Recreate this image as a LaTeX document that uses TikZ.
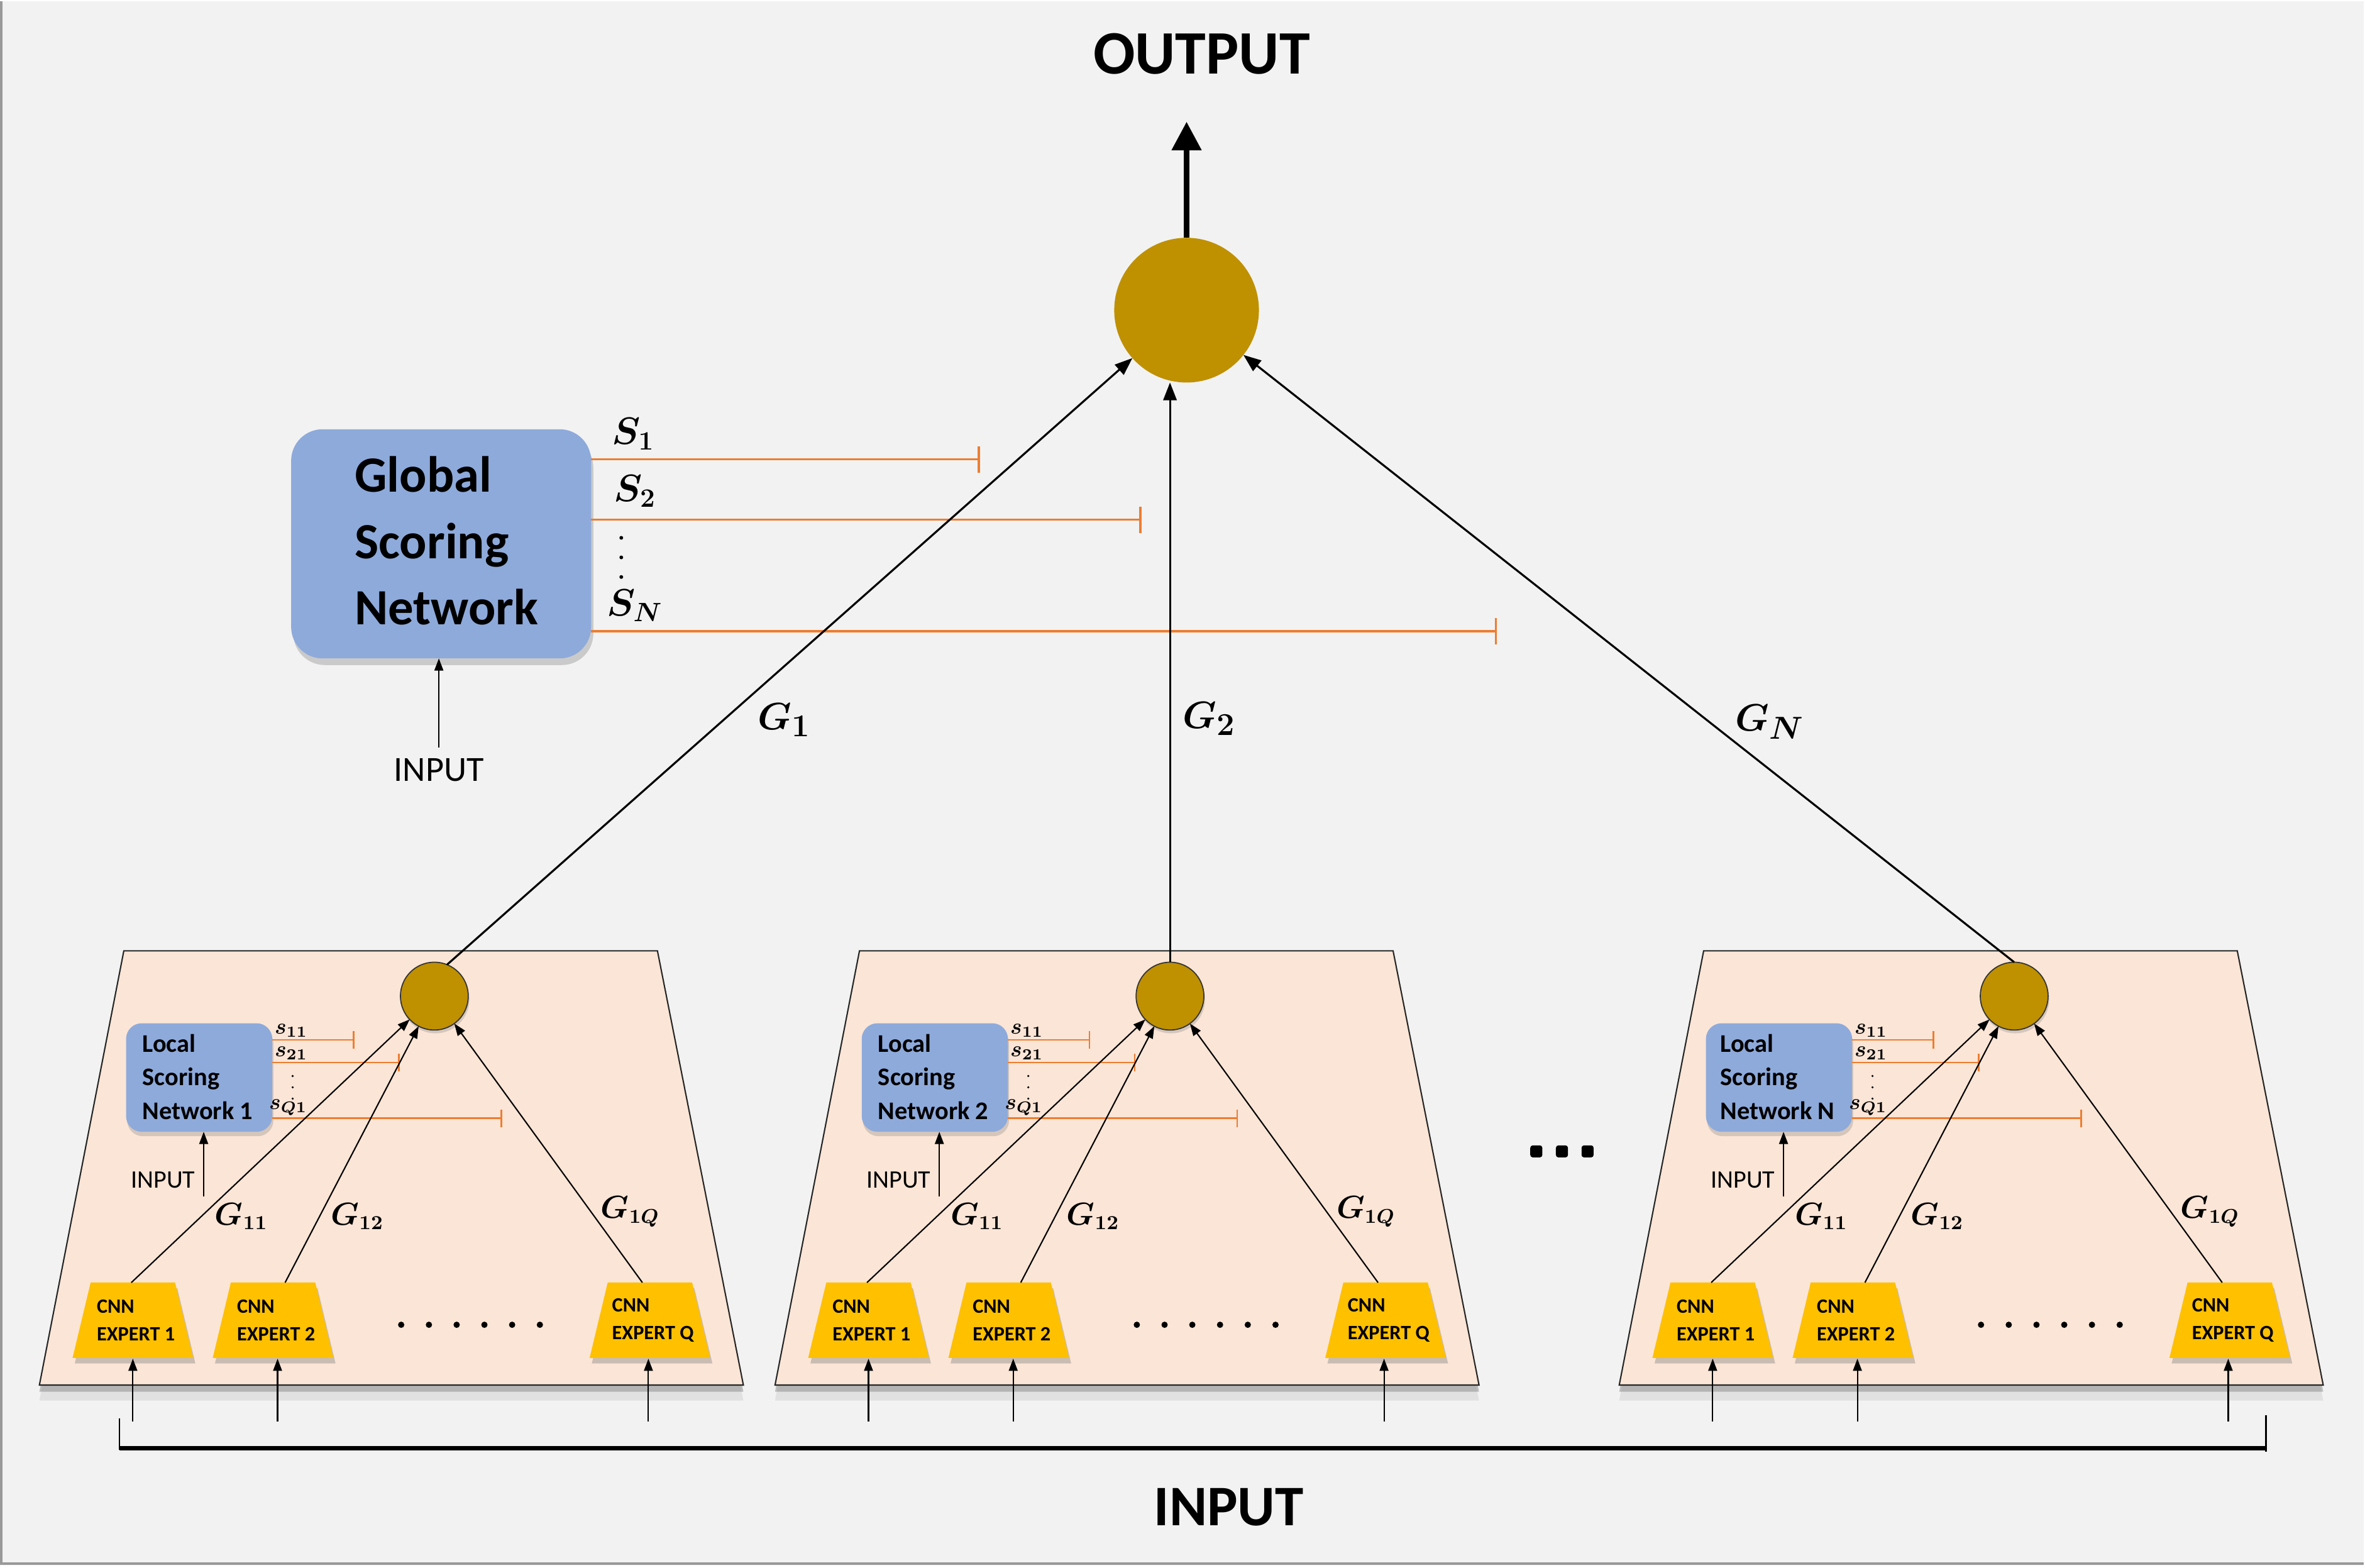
\documentclass[tikz,border=0pt]{standalone}
\usepackage{fontspec}
\setmainfont{Carlito}
\usetikzlibrary{arrows.meta,shadows}
\definecolor{bgc}{HTML}{F2F2F2}
\definecolor{panelc}{HTML}{FBE5D6}
\definecolor{boxc}{HTML}{8EAADB}
\definecolor{circc}{HTML}{BF9000}
\definecolor{expc}{HTML}{FFC000}
\definecolor{orc}{HTML}{ED7D31}
\newcommand\fz[2]{\fontsize{#1}{#2}\selectfont}
\begin{document}
\begin{tikzpicture}[x=0.024cm,y=-0.024cm,
  every node/.style={inner sep=0pt,outer sep=0pt},
  panelshape/.style={draw=black!85,line width=0.6pt,fill=panelc,
    drop shadow={shadow xshift=0pt,shadow yshift=-3pt,opacity=0.45},
    drop shadow={shadow xshift=0pt,shadow yshift=-7pt,opacity=0.15}},
  expshape/.style={fill=expc,
    drop shadow={shadow xshift=1pt,shadow yshift=-2.5pt,opacity=0.4}},
  gbox/.style={rectangle,rounded corners=0.5cm,fill=boxc,minimum width=4.776cm,minimum height=3.648cm,
    drop shadow={shadow xshift=1pt,shadow yshift=-3pt,opacity=0.35}},
  lbox/.style={rectangle,rounded corners=0.25cm,fill=boxc,minimum width=2.328cm,minimum height=1.728cm,
    drop shadow={shadow xshift=0.5pt,shadow yshift=-2pt,opacity=0.3}},
  bcirc/.style={circle,fill=circc,minimum size=2.304cm},
  scirc/.style={circle,fill=circc,draw=black!80,line width=0.5pt,minimum size=1.08cm,
    drop shadow={shadow xshift=0.5pt,shadow yshift=-1.5pt,opacity=0.3}},
  bigtext/.style={font=\bfseries\fz{28}{30}},
  gtext/.style={font=\bfseries\fz{23}{30},align=left},
  ltext/.style={font=\bfseries\fz{11.5}{15.2},align=left},
  etext/.style={font=\bfseries\fz{9.2}{12.3},align=left},
  intext/.style={font=\fz{16}{18}},
  lintext/.style={font=\fz{11.4}{13}},
  Slab/.style={font=\boldmath\fz{17}{18}},
  slab/.style={font=\boldmath\fz{10}{11}},
  Glab/.style={font=\boldmath\fz{19}{20}},
  glab/.style={font=\boldmath\fz{13.5}{14}},
  marr/.style={line width=0.9pt,-{Triangle[length=8pt,width=6pt]}},
  parr/.style={line width=0.6pt,-{Triangle[length=5.5pt,width=4pt]}},
  oarr/.style={line width=2.7pt,-{Triangle[length=13pt,width=13pt]}},
  orb/.style={draw=orc,line width=1pt,-{Bar[width=12pt]}},
  orl/.style={draw=orc,line width=0.7pt,-{Bar[width=8pt]}},
]
% background and frame
\fill[bgc] (0,0) rectangle (1568,1039);
\fill[white] (0,1037.5) rectangle (1568,1039);
\draw[black!40,line width=1pt] (0.6,0) -- (0.6,1036.5) -- (1568,1036.5);
\useasboundingbox (0,0) rectangle (1568,1039);

% top
\node[bigtext] (out) at (797,35) {OUTPUT};
\node[bcirc] (big) at (787,205) {};
\coordinate (outtip) at (787,80);
\draw[oarr] (big.north) -- (outtip);

% global scoring network
\node[gbox] (gb) at (292.5,360) {};
\node[gtext] (gt) at (296,358) {Global\\Scoring\\Network};
\node[intext] (gi) at (291,510) {INPUT};
\coordinate (gin) at (291,495);
\draw[parr] (gin) -- (gin |- gb.south);
\node[Slab] (S1) at (420,287) {$S_1$};
\node[Slab] (S2) at (421,325) {$S_2$};
\node[Slab] (SN) at (421,401) {$S_N$};
\foreach \yy in {356,369,382} \fill (412,\yy) circle (0.03cm);
\coordinate (st1) at (650,304);
\coordinate (st2) at (757,344);
\coordinate (stN) at (993,418);
\draw[orb] (gb.east |- st1) -- (st1);
\draw[orb] (gb.east |- st2) -- (st2);
\draw[orb] (gb.east |- stN) -- (stN);

% panels
\foreach \o/\n/\k in {0/1/1,488/2/2,1048/3/N}{
  \path[panelshape] (\o+26,918) -- (\o+493,918) -- (\o+436,630) -- (\o+82,630) -- cycle;
  \node[scirc] (c\n) at (\o+288,660) {};
  \node[lbox] (lb\n) at (\o+132,714) {};
  \node[ltext] (lt\n) at (\o+131,713.5) {Local\\Scoring\\Network \k};
  \node[slab] (sa\n) at (\o+193,683) {$s_{11}$};
  \node[slab] (sb\n) at (\o+193,698) {$s_{21}$};
  \node[slab] (sq\n) at (\o+191,734) {$s_{Q1}$};
  \foreach \yy in {713,720.5,728} \fill (\o+194,\yy) circle (0.018cm);
  \coordinate (ta\n) at (\o+235,689);
  \coordinate (tb\n) at (\o+265,704);
  \coordinate (tq\n) at (\o+333,741);
  \draw[orl] (lb\n.east |- ta\n) -- (ta\n);
  \draw[orl] (lb\n.east |- tb\n) -- (tb\n);
  \draw[orl] (lb\n.east |- tq\n) -- (tq\n);
  \node[lintext] (li\n) at (\o+108,782) {INPUT};
  \coordinate (lin\n) at (\o+135,793);
  \draw[parr] (lin\n) -- (lin\n |- lb\n.south);
  \foreach \j/\cx/\sx/\ax/\lab in {1/88/87/88/1,2/181/189/184/2,Q/431/426/430/Q}{
    \path[expshape] (\o+\cx-40,900) -- (\o+\cx+40,900) -- (\o+\cx+28,850) -- (\o+\cx-28,850) -- cycle;
    \node[etext] (et\n\j) at (\o+\cx+2,875) {CNN\\EXPERT \lab};
    \coordinate (es\n\j) at (\o+\sx,850);
    \coordinate (eb\n\j) at (\o+\ax,942);
    \draw[parr] (eb\n\j) -- (\o+\ax,900.5);
    \draw[parr] (es\n\j) -- (c\n);
  }
  \node[glab] (g1\n) at (\o+160,806) {$G_{11}$};
  \node[glab] (g2\n) at (\o+237,806) {$G_{12}$};
  \node[glab] (gq\n) at (\o+418,803) {$G_{1Q}$};
  \foreach \d in {0,...,5} \fill (\o+266+18.4*\d,878) circle (0.05cm);
}

% connectors to big circle
\draw[marr] (c1.68) -- (big);
\draw[marr] (c2.north) -- (c2.north |- big.south);
\draw[marr] (c3.north) -- (big);
\node[Glab] (G1) at (520,477) {$G_1$};
\node[Glab] (G2) at (802,476) {$G_2$};
\node[Glab] (GN) at (1174,478) {$G_N$};

% big dots between panels
\foreach \xx in {1019,1036,1053} \fill[rounded corners=0.04cm] (\xx-4,759) rectangle (\xx+4,767);

% bottom input bracket
\coordinate (bl) at (79,940);
\coordinate (br) at (1503,938);
\draw[line width=0.7pt] (bl) -- (bl |- 0,961);
\draw[line width=0.7pt] (br) -- (br |- 0,962);
\draw[line width=2pt,drop shadow={shadow xshift=0pt,shadow yshift=-1.5pt,opacity=0.3}] (bl |- 0,960) -- (br |- 0,960);
\node[bigtext,font=\bfseries\fz{26}{28}] (inp) at (815,999) {INPUT};
\end{tikzpicture}
\end{document}
